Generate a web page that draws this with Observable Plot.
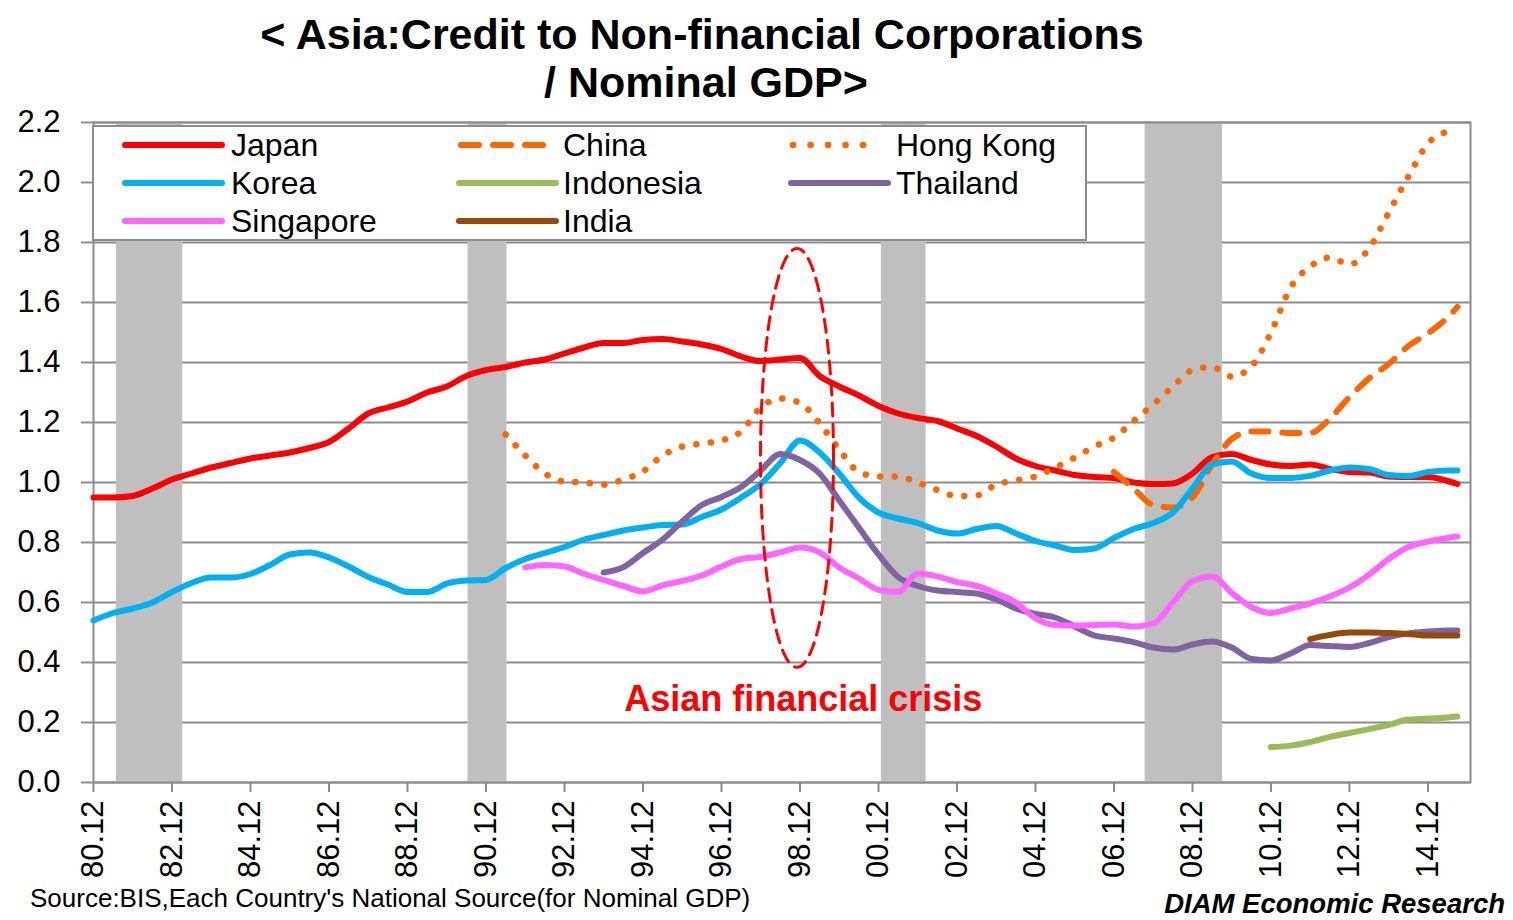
<!DOCTYPE html>
<html>
<head>
<meta charset="utf-8">
<script src="https://cdn.jsdelivr.net/npm/d3@7"></script>
<script src="https://cdn.jsdelivr.net/npm/@observablehq/plot@0.6"></script>
<style>
  html, body { margin: 0; padding: 0; background: #fff; }
  #chart { width: 1513px; height: 920px; overflow: hidden; }
</style>
</head>
<body>
<div id="chart"></div>
<script>
// ---------- DATA ----------
const _ = null;
const dates = ["80.12","81.06","81.12","82.06","82.12","83.06","83.12","84.06","84.12","85.06","85.12",
  "86.06","86.12","87.06","87.12","88.06","88.12","89.06","89.12","90.06","90.12",
  "91.06","91.12","92.06","92.12","93.06","93.12","94.06","94.12","95.06","95.12",
  "96.06","96.12","97.06","97.12","98.06","98.12","99.06","99.12","00.06","00.12",
  "01.06","01.12","02.06","02.12","03.06","03.12","04.06","04.12","05.06","05.12",
  "06.06","06.12","07.06","07.12","08.06","08.12","09.06","09.12","10.06","10.12",
  "11.06","11.12","12.06","12.12","13.06","13.12","14.06","14.12","15.06","15.09"];

const japan = [0.95,0.95,0.955,0.98,1.01,1.03,1.05,1.065,1.08,1.09,1.10,
  1.115,1.135,1.18,1.23,1.25,1.27,1.30,1.32,1.355,1.375,
  1.385,1.40,1.41,1.43,1.45,1.465,1.465,1.475,1.478,1.47,
  1.46,1.445,1.42,1.405,1.41,1.415,1.355,1.32,1.29,1.255,
  1.23,1.215,1.205,1.18,1.155,1.12,1.08,1.055,1.04,1.025,
  1.018,1.015,1.0,0.995,0.997,1.03,1.085,1.095,1.075,1.06,
  1.055,1.06,1.045,1.035,1.033,1.02,1.018,1.018,1.005,0.995];

const china = [_,_,_,_,_,_,_,_,_,_,_,
  _,_,_,_,_,_,_,_,_,_,
  _,_,_,_,_,_,_,_,_,_,
  _,_,_,_,_,_,_,_,_,_,
  _,_,_,_,_,_,_,_,_,_,
  _,1.035,0.98,0.925,0.917,0.95,1.06,1.145,1.17,1.17,
  1.165,1.165,1.213,1.285,1.347,1.395,1.455,1.497,1.55,1.585];

const hongKong = [_,_,_,_,_,_,_,_,_,_,_,
  _,_,_,_,_,_,_,_,_,_,
  1.16,1.09,1.03,1.003,1.0,0.993,1.01,1.037,1.09,1.12,
  1.13,1.14,1.17,1.25,1.28,1.265,1.197,1.11,1.035,1.02,
  1.02,1.0,0.975,0.955,0.957,0.993,1.007,1.02,1.05,1.083,
  1.12,1.15,1.205,1.26,1.32,1.375,1.385,1.353,1.387,1.50,
  1.65,1.72,1.75,1.727,1.78,1.90,2.02,2.13,2.17,_];

const korea = [0.54,0.565,0.58,0.60,0.635,0.665,0.683,0.683,0.695,0.725,0.76,
  0.767,0.75,0.72,0.685,0.66,0.635,0.635,0.663,0.673,0.675,
  0.715,0.745,0.765,0.785,0.81,0.825,0.84,0.85,0.858,0.86,
  0.885,0.91,0.95,0.995,1.065,1.14,1.10,1.03,0.95,0.90,
  0.88,0.865,0.84,0.83,0.845,0.855,0.83,0.805,0.79,0.775,
  0.78,0.815,0.845,0.865,0.90,0.98,1.06,1.07,1.03,1.015,
  1.015,1.022,1.04,1.05,1.045,1.025,1.022,1.035,1.04,1.04];

const indonesia = [_,_,_,_,_,_,_,_,_,_,_,
  _,_,_,_,_,_,_,_,_,_,
  _,_,_,_,_,_,_,_,_,_,
  _,_,_,_,_,_,_,_,_,_,
  _,_,_,_,_,_,_,_,_,_,
  _,_,_,_,_,_,_,_,_,0.118,
  0.123,0.135,0.152,0.165,0.178,0.192,0.21,0.213,0.217,0.22];

const thailand = [_,_,_,_,_,_,_,_,_,_,_,
  _,_,_,_,_,_,_,_,_,_,
  _,_,_,_,_,0.70,0.718,0.765,0.81,0.87,
  0.925,0.952,0.985,1.04,1.095,1.075,1.03,0.94,0.85,0.76,
  0.685,0.655,0.64,0.635,0.63,0.61,0.58,0.562,0.55,0.52,
  0.49,0.48,0.468,0.45,0.443,0.46,0.47,0.45,0.412,0.407,
  0.43,0.458,0.455,0.452,0.465,0.485,0.497,0.503,0.507,0.507];

const singapore = [_,_,_,_,_,_,_,_,_,_,_,
  _,_,_,_,_,_,_,_,_,_,
  _,0.717,0.725,0.72,0.695,0.675,0.655,0.637,0.657,0.672,
  0.69,0.72,0.745,0.752,0.767,0.783,0.767,0.717,0.68,0.642,
  0.635,0.697,0.687,0.668,0.655,0.63,0.60,0.547,0.525,0.523,
  0.525,0.527,0.52,0.53,0.60,0.672,0.687,0.632,0.585,0.565,
  0.58,0.597,0.62,0.65,0.693,0.745,0.785,0.803,0.815,0.82];

const india = [_,_,_,_,_,_,_,_,_,_,_,
  _,_,_,_,_,_,_,_,_,_,
  _,_,_,_,_,_,_,_,_,_,
  _,_,_,_,_,_,_,_,_,_,
  _,_,_,_,_,_,_,_,_,_,
  _,_,_,_,_,_,_,_,_,_,
  _,0.478,0.492,0.50,0.50,0.498,0.495,0.49,0.49,0.49];

const yTicks = [0, 0.2, 0.4, 0.6, 0.8, 1.0, 1.2, 1.4, 1.6, 1.8, 2.0, 2.2];
const xTickLabels = ["80.12","82.12","84.12","86.12","88.12","90.12","92.12","94.12","96.12",
  "98.12","00.12","02.12","04.12","06.12","08.12","10.12","12.12","14.12"];
const bandStart = [1981.50, 1990.46, 2000.99, 2007.71];
const bandEnd   = [1983.19, 1991.45, 2002.13, 2009.68];

// annotation (crisis ellipse & label)
const crisisCenter = {t: 1998.84, v: 1.082};
const crisisRadius = {t: 0.93, v: 0.698};
const crisisLabel = [{t: 1999.0, v: 0.277, text: "Asian financial crisis"}];

// ---------- helpers ----------
const toYear = s => {
  const yy = +s.slice(0, 2), mm = +s.slice(3);
  return (yy >= 50 ? 1900 : 2000) + yy + (mm - 1) / 12;
};
const xTickValues = xTickLabels.map(toYear);

const series = [
  {name: "Japan", values: japan, color: "#ff0000", width: 6},
  {name: "China", values: china, color: "#ff6600", width: 6, dash: "17 14", legendDash: "18 14"},
  {name: "Hong Kong", values: hongKong, color: "#ff6600", width: 6.5, dash: "0.1 14.5", legendDash: "0.1 17.4"},
  {name: "Korea", values: korea, color: "#00b0f0", width: 6},
  {name: "Indonesia", values: indonesia, color: "#9bbb59", width: 6},
  {name: "Thailand", values: thailand, color: "#8064a2", width: 6},
  {name: "Singapore", values: singapore, color: "#ff66ff", width: 6},
  {name: "India", values: india, color: "#984807", width: 6}
];

const toPoints = vals => dates.map((d, i) => ({t: toYear(d), v: vals[i]})).filter(p => p.v != null);

const bands = bandStart.map((s, i) => ({x1: s, x2: bandEnd[i]}));

const ellipse = d3.range(0, 361, 2).map(a => ({
  t: crisisCenter.t + crisisRadius.t * Math.cos(a * Math.PI / 180),
  v: crisisCenter.v + crisisRadius.v * Math.sin(a * Math.PI / 180)
}));

const FONT = "'Liberation Sans', Arial, Helvetica, sans-serif";
const GRID = "#8c8c8c";

const lineMarks = series.map(s => Plot.line(toPoints(s.values), {
  x: "t", y: "v", stroke: s.color, strokeWidth: s.width,
  strokeDasharray: s.dash, strokeLinecap: "round", strokeLinejoin: "round",
  curve: "monotone-x"
}));

const chart = Plot.plot({
  width: 1513,
  height: 920,
  marginLeft: 93,
  marginRight: 43,
  marginTop: 122,
  marginBottom: 138,
  style: {fontFamily: FONT, fontSize: "31px", background: "#fff", color: "#000", overflow: "visible"},
  x: {type: "linear", domain: [toYear("80.12"), toYear("16.01")]},
  y: {domain: [0, 2.2]},
  marks: [
    Plot.ruleY(yTicks, {stroke: GRID, strokeWidth: 2}),
    Plot.rect(bands, {x1: "x1", x2: "x2", y1: 0, y2: 2.2, fill: "#bfbfbf"}),
    Plot.frame({stroke: GRID, strokeWidth: 2}),
    Plot.axisY({ticks: yTicks, tickFormat: d => d.toFixed(1), tickSize: 12, tickPadding: 21,
      fontSize: 31, stroke: GRID, strokeWidth: 2, fill: "#000", label: null}),
    Plot.axisX({ticks: xTickValues, tickFormat: d => xTickLabels[xTickValues.indexOf(d)],
      tickRotate: -90, tickSize: 10, tickPadding: 8, fontSize: 31,
      stroke: GRID, strokeWidth: 2, fill: "#000", label: null}),
    ...lineMarks,
    Plot.line(ellipse, {x: "t", y: "v", stroke: "#ff0000", strokeWidth: 3, strokeDasharray: "13 8"}),
    Plot.text(crisisLabel, {x: "t", y: "v", text: "text", fill: "#ff0000", fontSize: 36,
      fontWeight: "bold", fontFamily: FONT, textAnchor: "middle", lineAnchor: "middle"})
  ]
});

document.getElementById("chart").appendChild(chart);

// ---------- title, legend, source (added into the same SVG) ----------
const svg = d3.select(chart);

const title = svg.append("g").attr("font-family", FONT).attr("font-weight", "bold")
  .attr("font-size", 43).attr("fill", "#000").attr("text-anchor", "middle");
title.append("text").attr("x", 702).attr("y", 49).text("< Asia:Credit to Non-financial Corporations");
title.append("text").attr("x", 706).attr("y", 97).text("/ Nominal GDP>");

const lg = svg.append("g").attr("text-anchor", "start");
lg.append("rect").attr("x", 93).attr("y", 126).attr("width", 993).attr("height", 114)
  .attr("fill", "#fff").attr("stroke", GRID).attr("stroke-width", 2);
const colSwatch = [125, 459, 791];
const colText = [231, 563, 896];
series.forEach((s, i) => {
  const col = i % 3, row = Math.floor(i / 3);
  const y = 145 + row * 38;
  const x0 = colSwatch[col];
  lg.append("line")
    .attr("x1", x0 + (s.legendDash ? 2 : 0)).attr("x2", x0 + (s.legendDash ? 87 : 97))
    .attr("y1", y).attr("y2", y)
    .attr("stroke", s.color).attr("stroke-width", s.width)
    .attr("stroke-linecap", "round")
    .attr("stroke-dasharray", s.legendDash || null);
  lg.append("text").attr("x", colText[col]).attr("y", y + 10.5)
    .attr("text-anchor", "start")
    .attr("font-family", FONT).attr("font-size", 32).attr("fill", "#000")
    .text(s.name);
});

svg.append("text").attr("x", 30).attr("y", 907).attr("text-anchor", "start")
  .attr("font-family", FONT).attr("font-size", 26).attr("fill", "#000")
  .text("Source:BIS,Each Country's National Source(for Nominal GDP)");
svg.append("text").attr("x", 1505).attr("y", 913).attr("text-anchor", "end")
  .attr("font-family", FONT).attr("font-size", 27.5).attr("font-weight", "bold")
  .attr("font-style", "italic").attr("fill", "#000")
  .text("DIAM Economic Research");
</script>
</body>
</html>
